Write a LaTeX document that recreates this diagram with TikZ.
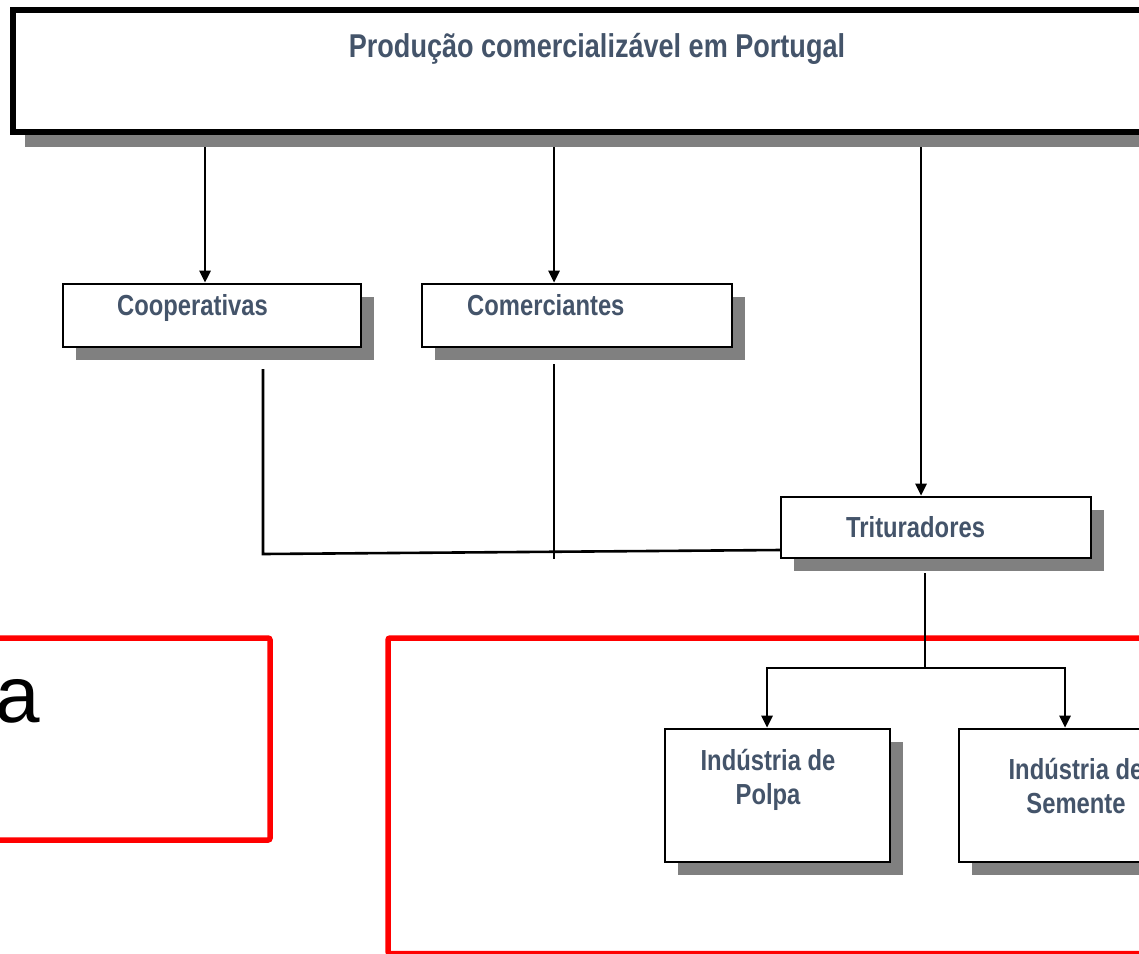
\documentclass[tikz,border=0pt]{standalone}
\usepackage{fontspec}
\setmainfont{Liberation Sans}
\newfontfamily\narrowbf[FakeStretch=0.82]{Liberation Sans}
\usetikzlibrary{shadows,arrows.meta}
\definecolor{txtblue}{RGB}{68,84,106}
\definecolor{shadowgray}{RGB}{128,128,128}
\definecolor{redline}{RGB}{255,0,0}
\tikzset{
  boxnode/.style={draw, rectangle, line width=2.6pt, fill=white, inner sep=0pt,
    general shadow={fill=shadowgray, shadow xshift=13pt, shadow yshift=-13pt}},
  topnode/.style={draw, rectangle, line width=5.5pt, fill=white, inner sep=0pt,
    general shadow={fill=shadowgray, shadow xshift=12pt, shadow yshift=-15pt}},
  lbl/.style={inner sep=0pt, text=txtblue, font=\narrowbf\bfseries\fontsize{29}{34}\selectfont},
  conn/.style={line width=2.6pt, black},
  arr/.style={conn, -{Triangle[length=12pt,width=11pt]}},
  redbox/.style={draw=redline, line width=5.5pt, rounded corners=2pt}
}
\begin{document}
\begin{tikzpicture}[x=1pt,y=-1pt]
\useasboundingbox (0,0) rectangle (1139,953);
\clip (0,0) rectangle (1139,953);

% red frames
\draw[redbox] (-20,638) rectangle (270,840);
\draw[redbox] (388,638) rectangle (1180,953.5);
\node[anchor=base east, inner sep=0pt, font=\fontsize{80}{90}\selectfont] (atext) at (40,722) {a};

% boxes
\node[topnode, minimum width=1147pt, minimum height=122pt] (top) at (586.5,71) {};
\node[lbl, font=\narrowbf\bfseries\fontsize{33}{38}\selectfont, anchor=base] (toplbl) at (597,57) {Produção comercializável em Portugal};

\node[boxnode, minimum width=298pt, minimum height=63pt] (coop) at (212,315.5) {};
\node[lbl, anchor=base west] (cooplbl) at (117,315) {Cooperativas};

\node[boxnode, minimum width=310pt, minimum height=63pt] (comer) at (577,315.5) {};
\node[lbl, anchor=base west] (comerlbl) at (467,315) {Comerciantes};

\node[boxnode, minimum width=310pt, minimum height=61pt] (trit) at (936,527.5) {};
\node[lbl, anchor=base west] (tritlbl) at (846,537) {Trituradores};

\node[boxnode, minimum width=225pt, minimum height=133pt] (polpa) at (777.5,795.5) {};
\node[lbl, anchor=base] (polpa1) at (768,770) {Indústria de};
\node[lbl, anchor=base] (polpa2) at (768,804) {Polpa};

\node[boxnode, minimum width=225pt, minimum height=133pt] (sem) at (1071.5,795.5) {};
\node[lbl, anchor=base] (sem1) at (1076,779) {Indústria de};
\node[lbl, anchor=base] (sem2) at (1076,813) {Semente};

% connectors from top
\coordinate (t1) at (205,147);
\coordinate (t2) at (554,147);
\coordinate (t3) at (921,147);
\draw[arr] (t1) -- (coop.north -| t1);
\draw[arr] (t2) -- (comer.north -| t2);
\draw[arr] (t3) -- (trit.north -| t3);

% cooperativas / comerciantes to trituradores
\coordinate (c1) at (263,369);
\coordinate (c2) at (263,554);
\coordinate (c3) at (554,364);
\coordinate (c4) at (554,559);
\coordinate (c5) at (781,550);
\draw[conn] (c1) -- (c2) -- (c5);
\draw[conn] (c3) -- (c4);

% trituradores to industries
\coordinate (d1) at (925,573);
\coordinate (d2) at (925,668);
\coordinate (d3) at (767,668);
\coordinate (d4) at (1065,668);
\draw[conn] (d1) -- (d2);
\draw[arr] (d2) -- (d3) -- (polpa.north -| d3);
\draw[arr] (d2) -- (d4) -- (sem.north -| d4);
\end{tikzpicture}
\end{document}
